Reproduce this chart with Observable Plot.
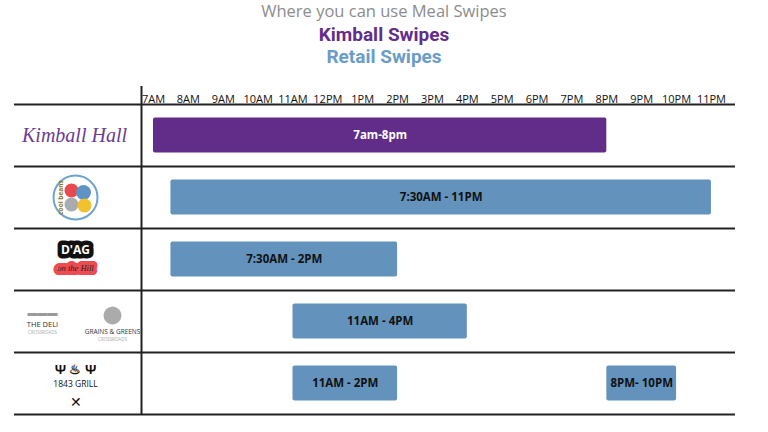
<!DOCTYPE html>
<html><head><meta charset="utf-8">
<script src="https://cdn.jsdelivr.net/npm/d3@7"></script>
<script src="https://cdn.jsdelivr.net/npm/@observablehq/plot@0.6"></script>
<style>
body{margin:0;background:#fff;width:768px;height:432px;overflow:hidden}
#hdr{text-align:center;height:67px;padding-top:0}
.t1{font:400 16.5px "Open Sans";color:#8c8c8c;line-height:22px;margin-top:0}
.t2{font:700 19px Roboto;color:#632d8c;line-height:22px;margin-top:2px}
.t3{font:700 19px Roboto;color:#6a9cc8;line-height:21px}
</style></head><body>
<div id="hdr">
  <div class="t1">Where you can use Meal Swipes</div>
  <div class="t2">Kimball Swipes</div>
  <div class="t3">Retail Swipes</div>
</div>
<div id="chart"></div>
<script>
// Rows (venues)
const venues = ["Kimball Hall", "Cool Beans", "D'AG on the Hill", "The Deli / Grains & Greens", "1843 Grill"];
// Hour ticks
const hours = [7, 8, 9, 10, 11, 12, 13, 14, 15, 16, 17, 18, 19, 20, 21, 22, 23];
const hourLabels = ["7AM","8AM","9AM","10AM","11AM","12PM","1PM","2PM","3PM","4PM","5PM","6PM","7PM","8PM","9PM","10PM","11PM"];
// Swipe windows
const barVenue = ["Kimball Hall", "Cool Beans", "D'AG on the Hill", "The Deli / Grains & Greens", "1843 Grill", "1843 Grill"];
const barStart = [7, 7.5, 7.5, 11, 11, 20];
const barEnd   = [20, 23, 14, 16, 14, 22];
const barLabel = ["7am-8pm", "7:30AM - 11PM", "7:30AM - 2PM", "11AM - 4PM", "11AM - 2PM", "8PM- 10PM"];
const barType  = ["Kimball", "Retail", "Retail", "Retail", "Retail", "Retail"];
const types = ["Kimball", "Retail"];

const bars = barVenue.map((v, i) => ({venue: v, start: barStart[i], end: barEnd[i], label: barLabel[i], type: barType[i]}));

const W = 768, H = 365, mt = 37, mb = 18, ml = 141, mr = 33;
const bw = (H - mt - mb) / venues.length;
const xDomain = [6.656, 23.69];
const PURPLE = "#612d89", BLUE = "#6393bc";
const L = {y: d => d, frameAnchor: "left", textAnchor: "middle"};

const chart = Plot.plot({
  width: W, height: H,
  marginTop: mt, marginBottom: mb, marginLeft: ml, marginRight: mr,
  style: {fontFamily: "Open Sans", fontSize: "11px", color: "#111", background: "white", overflow: "visible"},
  x: {domain: xDomain, axis: "top", ticks: hours, tickFormat: d => hourLabels[hours.indexOf(d)], tickSize: 0, tickPadding: 2, label: null},
  y: {domain: venues, axis: null, padding: 0},
  color: {domain: types, range: [PURPLE, BLUE]},
  marks: [
    // row separators
    Plot.ruleY(venues, {y: d => d, dy: -bw / 2, insetLeft: -(ml - 14), stroke: "#222", strokeWidth: 2}),
    Plot.ruleY([venues[venues.length - 1]], {y: d => d, dy: bw / 2, insetLeft: -(ml - 14), stroke: "#222", strokeWidth: 2}),
    Plot.ruleX([xDomain[0]], {insetTop: -18, stroke: "#222", strokeWidth: 2}),
    // bars
    Plot.barX(bars, {x1: "start", x2: "end", y: "venue", fill: "type", insetTop: 13.5, insetBottom: 13.5, rx: 2}),
    Plot.text(bars.filter(d => d.type === "Kimball"), {x: d => (d.start + d.end) / 2, y: "venue", text: "label", fill: "white", fontWeight: 700, fontSize: 11.5}),
    Plot.text(bars.filter(d => d.type !== "Kimball"), {x: d => (d.start + d.end) / 2, y: "venue", text: "label", fill: "#111", fontWeight: 700, fontSize: 11.5}),
    // logo stand-ins in the left column
    Plot.text([venues[0]], {...L, dx: -67, text: d => "Kimball Hall", fontFamily: "Liberation Serif", fontStyle: "italic", fontSize: 20, fill: "#6b3b96"}),
    Plot.dot([venues[1]], {y: d => d, frameAnchor: "left", dx: -66, r: 22, stroke: "#6fa3cf", strokeWidth: 2, fill: "white"}),
    Plot.dot([venues[1]], {y: d => d, frameAnchor: "left", dx: -70, dy: -7, r: 7, fill: "#e84a50"}),
    Plot.dot([venues[1]], {y: d => d, frameAnchor: "left", dx: -58, dy: -5, r: 7.5, fill: "#5f93c3"}),
    Plot.dot([venues[1]], {y: d => d, frameAnchor: "left", dx: -70, dy: 7, r: 7, fill: "#a9acaf"}),
    Plot.dot([venues[1]], {y: d => d, frameAnchor: "left", dx: -57, dy: 8, r: 7, fill: "#f2c12e"}),
    Plot.text([venues[1]], {...L, dx: -81, text: d => "cool beans", rotate: -90, fontSize: 6.5, fill: "#8a7a2a", fontWeight: 700}),
    Plot.text([venues[2]], {...L, dx: -66, dy: -9, text: d => "D'AG", fill: "white", stroke: "#111", strokeWidth: 9, paintOrder: "stroke", fontWeight: 700, fontSize: 12}),
    Plot.text([venues[2]], {...L, dx: -66, dy: 9, text: d => "on the Hill", fill: "#222", stroke: "#ef4a4f", strokeWidth: 8, paintOrder: "stroke", fontFamily: "Liberation Serif", fontStyle: "italic", fontSize: 8.5}),
    Plot.text([venues[3]], {...L, dx: -99, dy: -9, text: d => "▬▬▬", fill: "#9a9a9a", fontSize: 10}),
    Plot.text([venues[3]], {...L, dx: -99, dy: 3, text: d => "THE DELI", fill: "#333", fontSize: 7.5}),
    Plot.text([venues[3]], {...L, dx: -99, dy: 11, text: d => "CROSSROADS", fill: "#aaa", fontSize: 4.5}),
    Plot.dot([venues[3]], {y: d => d, frameAnchor: "left", dx: -29, dy: -6, r: 9, fill: "#666", fillOpacity: 0.55}),
    Plot.text([venues[3]], {...L, dx: -29, dy: 10, text: d => "GRAINS & GREENS", fill: "#333", fontSize: 6.5}),
    Plot.text([venues[3]], {...L, dx: -29, dy: 18, text: d => "CROSSROADS", fill: "#aaa", fontSize: 4.5}),
    Plot.text([venues[4]], {...L, dx: -66, dy: -14, text: d => "Ψ ♨ Ψ", fill: "#111", fontSize: 13, fontWeight: 700}),
    Plot.text([venues[4]], {...L, dx: -66, dy: 1, text: d => "1843 GRILL", fill: "#111", fontSize: 8.5}),
    Plot.text([venues[4]], {...L, dx: -66, dy: 19, text: d => "✕", fill: "#111", fontSize: 14})
  ]
});
document.getElementById("chart").appendChild(chart);
</script>
</body></html>
